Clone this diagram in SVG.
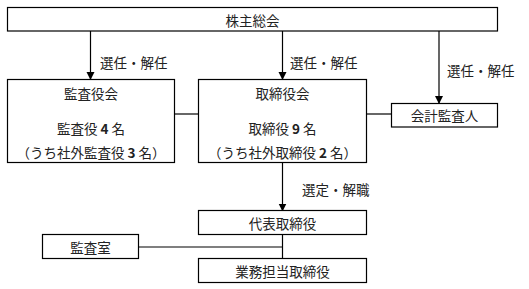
<svg xmlns="http://www.w3.org/2000/svg" width="529" height="289" viewBox="0 0 529 289">
<style>
.box{fill:#fff;stroke:#000;stroke-width:1.2}
.ln{fill:none;stroke:#000;stroke-width:1.2}
text{font-family:"Noto Sans CJK JP","Liberation Serif",serif;font-size:13.5px;fill:#222;dominant-baseline:central}
.c{text-anchor:middle}
.b{font-weight:bold}
</style>
<defs>
<marker id="arr" markerWidth="8" markerHeight="9" refX="7" refY="4" orient="auto" markerUnits="userSpaceOnUse" viewBox="0 0 8 8">
<path d="M0,0 L8,4 L0,8 Z" fill="#000"/>
</marker>
</defs>
<g id="connectors">
<line class="ln" x1="90.5" y1="31" x2="90.5" y2="79" marker-end="url(#arr)"/>
<line class="ln" x1="282.5" y1="31" x2="282.5" y2="79" marker-end="url(#arr)"/>
<line class="ln" x1="439" y1="31" x2="439" y2="103" marker-end="url(#arr)"/>
<line class="ln" x1="282.5" y1="163" x2="282.5" y2="210.5" marker-end="url(#arr)"/>
<line class="ln" x1="174.5" y1="114" x2="198.5" y2="114"/>
<line class="ln" x1="366.5" y1="114" x2="391.5" y2="114"/>
<line class="ln" x1="282.5" y1="234.5" x2="282.5" y2="258.5"/>
<line class="ln" x1="138.5" y1="247" x2="282.5" y2="247"/>
<text x="100" y="62">選任・解任</text>
<text x="290" y="62">選任・解任</text>
<text x="447" y="70">選任・解任</text>
<text x="302" y="189">選定・解職</text>
</g>
<g id="shareholders">
<rect class="box" x="7.5" y="7.5" width="490" height="23.5"/>
<text class="c" x="252.5" y="20">株主総会</text>
</g>
<g id="kansayakukai">
<rect class="box" x="7.5" y="79.5" width="167" height="83"/>
<text class="c" x="91" y="93">監査役会</text>
<text class="c" x="91" y="128">監査役 <tspan class="b">4</tspan> 名</text>
<text class="c" x="91" y="152">（うち社外監査役 <tspan class="b">3</tspan> 名）</text>
</g>
<g id="torishimariyakukai">
<rect class="box" x="198.5" y="79.5" width="168" height="83"/>
<text class="c" x="282.5" y="93">取締役会</text>
<text class="c" x="282.5" y="128">取締役 <tspan class="b">9</tspan> 名</text>
<text class="c" x="282.5" y="152">（うち社外取締役 <tspan class="b">2</tspan> 名）</text>
</g>
<g id="auditor">
<rect class="box" x="391.5" y="103.5" width="106" height="23.5"/>
<text class="c" x="444.5" y="115">会計監査人</text>
</g>
<g id="representative">
<rect class="box" x="198.5" y="210.5" width="168" height="24"/>
<text class="c" x="282.5" y="222.5">代表取締役</text>
</g>
<g id="auditoffice">
<rect class="box" x="42.5" y="234.5" width="96" height="24"/>
<text class="c" x="90.5" y="246.5">監査室</text>
</g>
<g id="executive">
<rect class="box" x="198.5" y="258.5" width="168" height="24"/>
<text class="c" x="282.5" y="270.5">業務担当取締役</text>
</g>
</svg>
